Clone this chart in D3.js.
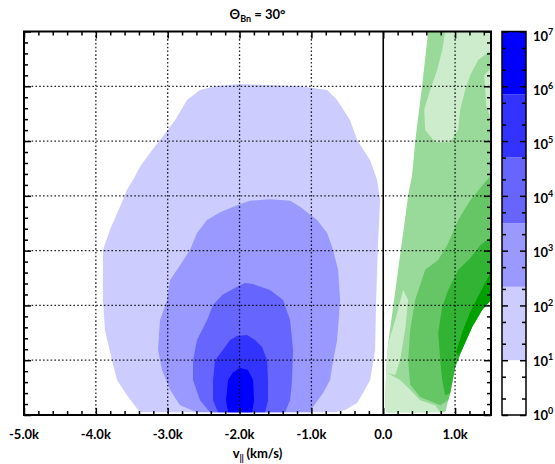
<!DOCTYPE html>
<html><head><meta charset="utf-8">
<script src="https://cdn.jsdelivr.net/npm/d3@7"></script>
<style>
body{margin:0;background:#fff}
svg{display:block}
text{font-family:Lato,"Open Sans",sans-serif;font-weight:700;fill:#000}
</style>
</head><body>
<svg id="chart" width="555" height="464"></svg>
<script>
// ---------- data ----------
const xMajorTicks = [-5000,-4000,-3000,-2000,-1000,0,1000];
const xTickLabels = ["-5.0k","-4.0k","-3.0k","-2.0k","-1.0k","0.0","1.0k"];
const yMajorTicks = [0,1,2,3,4,5,6,7];
const cbExponents = [0,1,2,3,4,5,6,7];
const levelExponents = [1.0, 2.34, 3.5, 4.7, 5.85, 7.0];
const blueColors  = ["#ccccff","#9999ff","#6666ff","#3333ff","#0000ff"];
const greenColors = ["#cceccc","#99d999","#66c666","#33b333","#00a000"];

// blue population: region above each level (v_par km/s, v_perp grid units)
const blueLevel1 = [[-3386,0.05],[-3567,0.36],[-3706,0.64],[-3776,1.00],[-3873,1.55],[-3901,2.10],[-3901,2.65],[-3901,3.01],[-3804,3.38],[-3664,3.80],[-3567,4.11],[-3483,4.29],[-3386,4.53],[-3247,4.78],[-3107,5.02],[-2898,5.38],[-2731,5.75],[-2550,5.93],[-2341,6.00],[-1993,6.04],[-1157,6.00],[-781,5.93],[-642,5.75],[-461,5.38],[-363,5.02],[-182,4.65],[-85,4.29],[-43,3.92],[-71,3.19],[-99,2.10],[-113,1.19],[-182,0.64],[-280,0.40],[-363,0.22],[-531,0.09],[-670,0.05]];
const blueLevel2 = [[-2592,0.05],[-2829,0.18],[-2968,0.46],[-3079,0.82],[-3135,1.19],[-3107,1.73],[-3009,2.10],[-2968,2.46],[-2870,2.65],[-2690,3.01],[-2592,3.32],[-2453,3.56],[-2269,3.70],[-2035,3.83],[-1854,3.91],[-1575,3.94],[-1296,3.91],[-1157,3.80],[-920,3.56],[-781,3.32],[-712,3.07],[-628,2.65],[-600,2.10],[-642,1.37],[-712,0.88],[-740,0.64],[-837,0.40],[-976,0.15],[-1018,0.05]];
const blueLevel3 = [[-2411,0.05],[-2550,0.27],[-2648,0.64],[-2648,1.00],[-2592,1.37],[-2453,1.73],[-2369,2.01],[-2241,2.19],[-2035,2.34],[-1923,2.41],[-1812,2.39],[-1575,2.28],[-1394,2.10],[-1296,1.73],[-1255,1.19],[-1269,0.64],[-1296,0.27],[-1366,0.05]];
const blueLevel4 = [[-2300,0.05],[-2369,0.27],[-2369,0.64],[-2341,1.00],[-2230,1.19],[-2132,1.37],[-2035,1.44],[-1896,1.46],[-1784,1.37],[-1687,1.24],[-1617,1.00],[-1603,0.64],[-1603,0.27],[-1645,0.05]];
const blueLevel5 = [[-2160,0.05],[-2188,0.27],[-2160,0.64],[-2090,0.78],[-1993,0.86],[-1882,0.82],[-1812,0.64],[-1798,0.27],[-1826,0.05]];

// green population
const greenOuter = [[626,7.0],[1500,7.0],[1500,2.10],[1378,1.92],[1239,1.61],[1113,1.24],[1002,0.88],[932,0.40],[863,0.05],[40,0.05],[26,0.22],[40,0.77],[68,1.31],[138,1.97],[207,2.65],[277,3.32],[305,3.59],[347,4.01],[402,4.38],[444,4.98],[472,5.29],[542,6.02]];
const greenLightA = [[862,7.0],[1500,7.0],[1500,6.66],[1322,6.48],[1211,6.20],[1141,5.93],[1071,5.57],[1043,5.20],[932,4.98],[723,4.98],[584,5.20],[570,5.57],[653,5.93],[751,6.30],[820,6.66]];
const greenLightB = [[1405,6.20],[1500,6.33],[1500,5.38],[1433,5.66]];
const greenLightC = [[40,0.05],[793,0.05],[723,0.18],[514,0.27],[375,0.46],[235,0.64],[40,0.78],[26,0.22]];
const greenLightD = [[68,1.31],[167,1.73],[277,2.28],[347,2.10],[305,1.55],[235,1.00],[167,0.73],[40,0.77]];
const greenLevel3 = [[1500,4.38],[1211,3.92],[1043,3.56],[891,3.10],[765,2.83],[584,2.65],[444,2.10],[375,1.55],[347,1.00],[375,0.55],[514,0.33],[793,0.18],[904,0.27],[932,0.40],[1002,0.88],[1113,1.24],[1239,1.61],[1378,1.92],[1500,2.10]];
const greenLevel4 = [[1500,3.25],[1350,3.10],[1211,2.86],[1043,2.65],[904,2.28],[821,1.97],[765,1.50],[793,1.00],[821,0.64],[862,0.36],[932,0.40],[1002,0.88],[1113,1.24],[1239,1.61],[1378,1.92],[1500,2.10]];
const greenLevel5 = [[1500,2.61],[1350,2.24],[1211,1.88],[1099,1.51],[1015,1.15],[1043,1.08],[1113,1.24],[1239,1.61],[1378,1.92],[1500,2.10]];

// ---------- layout ----------
const L = 24, R = 491, T = 31.5, B = 415;
const CBL = 502, CBR = 526;
const svg = d3.select("#chart");

const x = d3.scaleLinear().domain([-5000,1500]).range([L,R]);
const y = d3.scaleLinear().domain([0,7]).range([B,T]);
const cb = d3.scaleLog().domain([1,1e7]).range([B,T]);

svg.append("defs").append("clipPath").attr("id","plotclip")
  .append("rect").attr("x",L).attr("y",T).attr("width",R-L).attr("height",B-T);

const line = d3.line().x(d=>x(d[0])).y(d=>y(d[1])).curve(d3.curveLinearClosed);
const gData = svg.append("g").attr("clip-path","url(#plotclip)");

const bluePatches = [
  {lev:0, pts:blueLevel1},{lev:1, pts:blueLevel2},{lev:2, pts:blueLevel3},
  {lev:3, pts:blueLevel4},{lev:4, pts:blueLevel5}];
const greenPatches = [
  {lev:1, pts:greenOuter},{lev:0, pts:greenLightA},{lev:0, pts:greenLightB},
  {lev:0, pts:greenLightC},{lev:0, pts:greenLightD},
  {lev:2, pts:greenLevel3},{lev:3, pts:greenLevel4},{lev:4, pts:greenLevel5}];

gData.selectAll("path.blue").data(bluePatches).join("path")
  .attr("class","blue").attr("d",d=>line(d.pts)).attr("fill",d=>blueColors[d.lev]);
gData.selectAll("path.green").data(greenPatches).join("path")
  .attr("class","green").attr("d",d=>line(d.pts)).attr("fill",d=>greenColors[d.lev]);

// dotted grid
const gGrid = svg.append("g").attr("stroke","#000").attr("stroke-width",1.3)
  .attr("stroke-dasharray","1.6,2.2").attr("opacity",0.85);
gGrid.selectAll("line.v").data(xMajorTicks.filter(v=>v!==-5000 && v!==0)).join("line")
  .attr("x1",d=>x(d)).attr("x2",d=>x(d)).attr("y1",T).attr("y2",B);
gGrid.selectAll("line.h").data(yMajorTicks.filter(v=>v>0 && v<7)).join("line")
  .attr("x1",L).attr("x2",R).attr("y1",d=>y(d)).attr("y2",d=>y(d));

// zero line
svg.append("line").attr("x1",x(0)).attr("x2",x(0)).attr("y1",T).attr("y2",B)
  .attr("stroke","#000").attr("stroke-width",1.6);

// axes (inward ticks)
const xMinor = d3.range(-5000,1501,200).filter(v=>v%1000!==0);
const yMinor = d3.range(0,7.001,0.2).map(v=>+v.toFixed(1)).filter(v=>Math.abs(v-Math.round(v))>0.01);
function addAxis(axis, tx, ty){
  const g = svg.append("g").attr("transform",`translate(${tx},${ty})`).call(axis);
  g.select(".domain").remove();
  g.selectAll("line").attr("stroke","#000").attr("stroke-width",1.5);
  g.selectAll("text").remove();
  return g;
}
addAxis(d3.axisBottom(x).tickValues(xMajorTicks).tickSize(-7).tickFormat(""),0,B);
addAxis(d3.axisBottom(x).tickValues(xMinor).tickSize(-4).tickFormat(""),0,B);
addAxis(d3.axisTop(x).tickValues(xMajorTicks).tickSize(-7).tickFormat(""),0,T);
addAxis(d3.axisTop(x).tickValues(xMinor).tickSize(-4).tickFormat(""),0,T);
addAxis(d3.axisLeft(y).tickValues(yMajorTicks).tickSize(-7).tickFormat(""),L,0);
addAxis(d3.axisLeft(y).tickValues(yMinor).tickSize(-4).tickFormat(""),L,0);
addAxis(d3.axisRight(y).tickValues(yMajorTicks).tickSize(-7).tickFormat(""),R,0);
addAxis(d3.axisRight(y).tickValues(yMinor).tickSize(-4).tickFormat(""),R,0);

svg.append("rect").attr("x",L).attr("y",T).attr("width",R-L).attr("height",B-T)
  .attr("fill","none").attr("stroke","#000").attr("stroke-width",2);

// x tick labels
svg.selectAll("text.xl").data(xMajorTicks).join("text").attr("class","xl")
  .attr("x",d=>x(d)).attr("y",439).attr("text-anchor","middle")
  .attr("font-size",13).text((d,i)=>xTickLabels[i]);

// x axis title
const xt = svg.append("text").attr("x",(L+R)/2).attr("y",458).attr("text-anchor","middle").attr("font-size",13);
xt.append("tspan").text("v");
xt.append("tspan").attr("font-size",9).attr("dy",3).attr("letter-spacing",-0.5).text("||");
xt.append("tspan").attr("dy",-3).text(" (km/s)");

// title
const tt = svg.append("text").attr("x",(L+R)/2).attr("y",18.5).attr("text-anchor","middle").attr("font-size",13);
tt.append("tspan").text("Θ");
tt.append("tspan").attr("font-size",9).attr("dy",3).text("Bn");
tt.append("tspan").attr("dy",-3).text(" = 30°");

// ---------- colorbar ----------
const bands = d3.range(levelExponents.length).map(i=>({
  lo: i===0 ? 0 : levelExponents[i-1], hi: levelExponents[i], col: i===0 ? "#ffffff" : blueColors[i-1]}));
svg.selectAll("rect.band").data(bands).join("rect").attr("class","band")
  .attr("x",CBL).attr("width",CBR-CBL)
  .attr("y",d=>cb(Math.pow(10,d.hi))).attr("height",d=>cb(Math.pow(10,d.lo))-cb(Math.pow(10,d.hi)))
  .attr("fill",d=>d.col);
const cbMajor = cbExponents.map(e=>Math.pow(10,e));
const cbMinor = [];
cbExponents.slice(0,7).forEach(e=>{cbMinor.push(2*Math.pow(10,e)); cbMinor.push(5*Math.pow(10,e));});
addAxis(d3.axisLeft(cb).tickValues(cbMajor).tickSize(-6).tickFormat(""),CBL,0);
addAxis(d3.axisLeft(cb).tickValues(cbMinor).tickSize(-4).tickFormat(""),CBL,0);
addAxis(d3.axisRight(cb).tickValues(cbMajor).tickSize(-6).tickFormat(""),CBR,0);
addAxis(d3.axisRight(cb).tickValues(cbMinor).tickSize(-4).tickFormat(""),CBR,0);
svg.append("rect").attr("x",CBL).attr("y",T).attr("width",CBR-CBL).attr("height",B-T)
  .attr("fill","none").attr("stroke","#000").attr("stroke-width",1.5);

const cbl = svg.selectAll("text.cbl").data(cbExponents).join("text").attr("class","cbl")
  .attr("x",533).attr("y",d=>cb(Math.pow(10,d)) + 5 + 4*(d/7)).attr("font-size",13);
cbl.append("tspan").text("10");
cbl.append("tspan").attr("font-size",9).attr("dy",-6).text(d=>d);
</script>
</body></html>
